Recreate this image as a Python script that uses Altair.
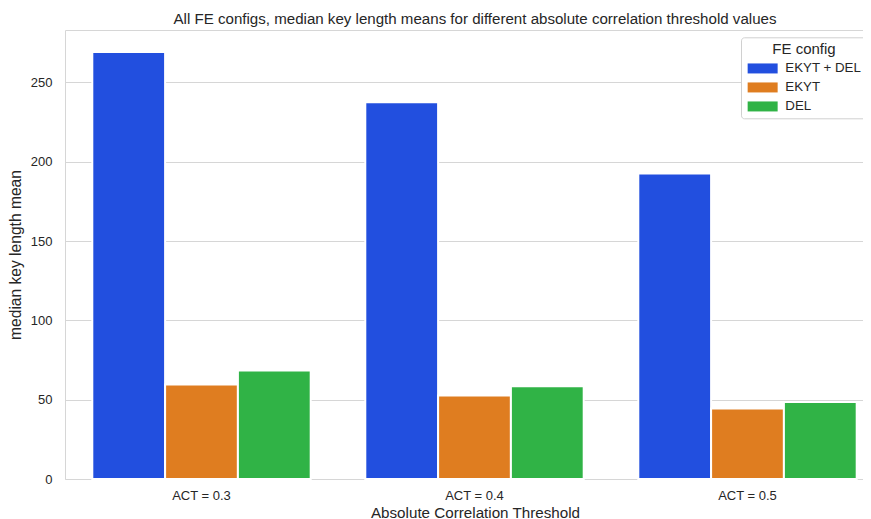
import altair as alt
import pandas as pd

thresholds = ["ACT = 0.3", "ACT = 0.4", "ACT = 0.5"]
configs = ["EKYT + DEL", "EKYT", "DEL"]
ekyt_del = [269.2, 237.5, 192.5]
ekyt = [59.5, 52.7, 44.5]
del_only = [68.4, 58.4, 48.5]
colors = ["#224fdf", "#df7d20", "#30b346"]
y_ticks = [0, 50, 100, 150, 200, 250]

rows = []
for name, vals in zip(configs, [ekyt_del, ekyt, del_only]):
    for t, v in zip(thresholds, vals):
        rows.append({"ACT": t, "FE config": name, "value": v})
df = pd.DataFrame(rows)

FONT = "Liberation Sans"
TXT = "#262626"
GRID = "#d6d6d6"

chart = alt.Chart(df).mark_bar(stroke="white", strokeWidth=2).encode(
    x=alt.X(
        "ACT:N", sort=thresholds, title="Absolute Correlation Threshold",
        scale=alt.Scale(paddingInner=0.2, paddingOuter=0.1, range=[0, 819]),
        axis=alt.Axis(labelAngle=0, ticks=False, domain=False, grid=False,
                      labelPadding=10, titlePadding=3, titleFontSize=15.2,
                      titleX=410),
    ),
    xOffset=alt.XOffset("FE config:N", sort=configs,
                        scale=alt.Scale(paddingInner=0, paddingOuter=0)),
    y=alt.Y(
        "value:Q", title="median key length mean",
        scale=alt.Scale(domain=[0, 283], nice=False, zero=True),
        axis=alt.Axis(values=y_ticks, ticks=False, domain=False, grid=True,
                      gridColor=GRID, labelPadding=13, titlePadding=7,
                      titleFontSize=15.6),
    ),
    color=alt.Color(
        "FE config:N", sort=configs,
        scale=alt.Scale(domain=configs, range=colors),
        legend=alt.Legend(
            title="FE config", orient="none", legendX=676, legendY=7.3,
            titleAnchor="middle", titleFontWeight="normal", titleFontSize=15,
            titleColor=TXT, titleFont=FONT, titlePadding=4.5,
            labelFontSize=13.3, labelColor=TXT, labelFont=FONT, labelOffset=16,
            labelLimit=300,
            symbolType="M-3,-1H3V1H-3Z", symbolSize=100,
            symbolStrokeWidth=0, symbolOffset=10, rowPadding=5,
            padding=5, strokeColor="#d0d0d0", cornerRadius=3, fillColor="white",
        ),
    ),
).properties(
    width=798, height=449,
    title=alt.Title(
        "All FE configs, median key length means for different absolute correlation threshold values",
        fontSize=15.1, fontWeight="normal", color=TXT, font=FONT, offset=3,
        anchor="middle", dx=11,
    ),
    autosize=alt.AutoSizeParams(type="none"),
    padding={"left": 57, "top": 22, "right": 0, "bottom": 40},
).configure_view(
    stroke=GRID, strokeWidth=1
).configure_axis(
    labelFont=FONT, titleFont=FONT, labelFontSize=13,
    labelColor=TXT, titleColor=TXT, titleFontWeight="normal",
)

chart.save("out.html", embed_options={"renderer": "svg", "actions": False})
